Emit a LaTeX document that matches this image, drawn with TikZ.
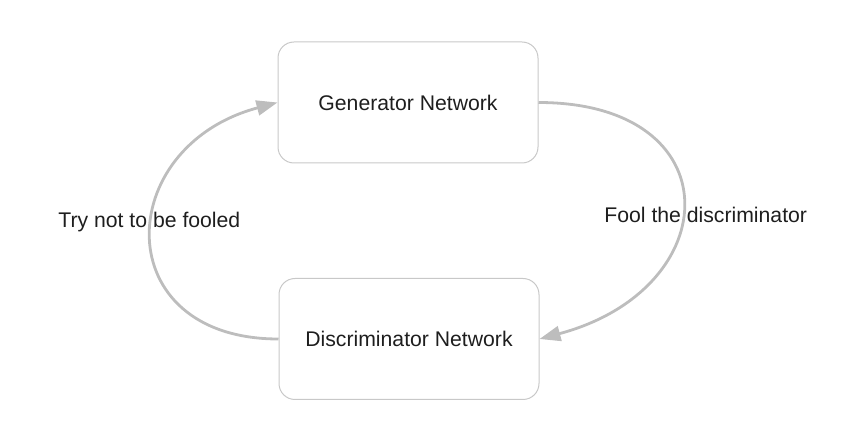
\documentclass[tikz,border=0pt]{standalone}
\usepackage{fontspec}
\setmainfont{Liberation Sans}
\usetikzlibrary{arrows.meta}
\definecolor{boxgray}{HTML}{C8C8C8}
\definecolor{loopgray}{HTML}{BDBDBD}
\definecolor{textgray}{HTML}{1E1E1E}
\begin{document}
\begin{tikzpicture}[x=0.5pt, y=0.5pt,
		every node/.style={text=textgray, font=\fontsize{10.6}{12}\selectfont},
		netbox/.style={draw=boxgray, line width=0.5pt, rectangle, rounded corners=8pt, minimum width=130pt, minimum height=60.5pt},
		loopline/.style={draw=loopgray, line width=1.4pt, -{Triangle[length=10.5pt,width=7.5pt]}}]
		\useasboundingbox (0,0) rectangle (864,445);

		\node[netbox] (generator) at (408,342.5) {Generator Network};
		\node[netbox] (discriminator) at (409,106) {Discriminator Network};

		\node[anchor=west, inner sep=0pt] (fool) at (604,230) {Fool the discriminator};
		\node[anchor=west, inner sep=0pt] (tryNot) at (58,223) {Try not to be fooled};

		\draw[loopline] (generator.east) to[out=0, in=15, looseness=2.1] (discriminator.east);
		\draw[loopline] (discriminator.west) to[out=180, in=195, looseness=1.85] (generator.west);
	\end{tikzpicture}
\end{document}
